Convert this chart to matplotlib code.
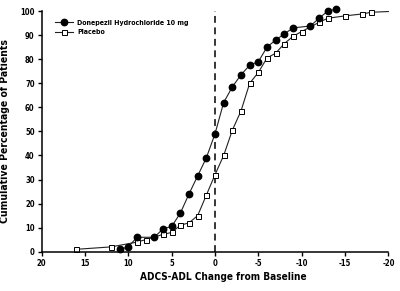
import matplotlib.pyplot as plt

# cumulative % of patients by ADCS-ADL change from baseline
don_x = [11, 10, 9, 7, 6, 5, 4, 3, 2, 1, 0, -1, -2, -3, -4, -5, -6, -7, -8, -9, -11, -12, -13, -14]
don_y = [1, 2, 6, 6, 9.5, 10.5, 16, 24, 31.5, 39, 49, 62, 68.5, 73.5, 77.5, 79, 85, 88, 90.5, 93, 93.8, 97, 100, 100.8]

pla_x = [16, 12, 9, 8, 6, 5, 4, 3, 2, 1, 0, -1, -2, -3, -4, -5, -6, -7, -8, -9, -10, -12, -13, -15, -17, -18, -20]
pla_y = [1, 2, 4, 5, 7.2, 8, 11, 12, 15, 23.5, 32, 40, 50.5, 58.5, 70, 74.5, 80.5, 82.5, 86.5, 89.5, 91.5, 95.3, 97, 98, 98.8, 99.5, 99.8]

xticks = [20, 15, 10, 5, 0, -5, -10, -15, -20]
yticks = [0, 10, 20, 30, 40, 50, 60, 70, 80, 90, 100]

plt.rcParams['font.family'] = ['DejaVu Sans']
plt.rcParams['font.stretch'] = 'condensed'
plt.rcParams['font.weight'] = 'bold'

fig = plt.figure(figsize=(4, 2.91), dpi=100)
ax = fig.add_axes([0.104, 0.135, 0.867, 0.827])

ax.axvline(0, color='black', lw=1.1, ls=(0, (4.5, 3)), zorder=1)

ax.plot(don_x, don_y, color='#222222', lw=0.8, marker='o', ms=4.6,
        mfc='black', mec='black', clip_on=False, zorder=3,
        label='Donepezil Hydrochloride 10 mg')
ax.plot(pla_x, pla_y, color='#222222', lw=0.8, marker='s', ms=3.6,
        mfc='white', mec='black', mew=0.7, clip_on=False, zorder=2,
        markevery=list(range(len(pla_x) - 1)), label='Placebo')

ax.set_xlim(20, -20)
ax.set_ylim(0, 100)
ax.set_xticks(xticks)
ax.set_yticks(yticks)
ax.set_xticklabels([str(t) for t in xticks])
ax.tick_params(labelsize=5.5, width=1, length=3, pad=2)

for s in ['top', 'right']:
    ax.spines[s].set_visible(False)
for s in ['left', 'bottom']:
    ax.spines[s].set_linewidth(1.1)

ax.set_xlabel('ADCS-ADL Change from Baseline', fontsize=7.2, fontweight='bold')
ax.xaxis.set_label_coords(0.525, -0.085)
ax.set_ylabel('Cumulative Percentage of Patients', fontsize=7.5, fontweight='bold', labelpad=7)

leg = ax.legend(loc='upper left', bbox_to_anchor=(0.02, 0.99), frameon=False,
                fontsize=5, handlelength=2.6, handletextpad=0.6, labelspacing=0.5)

fig.savefig('out.png', dpi=100)
